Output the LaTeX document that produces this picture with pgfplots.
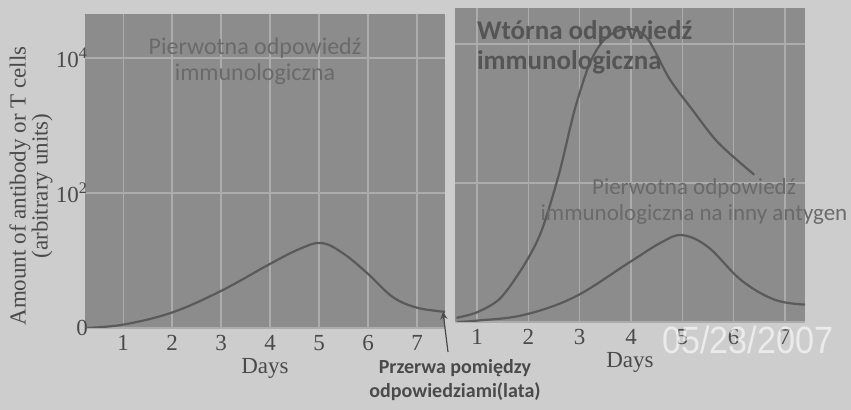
\documentclass[border=0pt]{standalone}
\usepackage{pgfplots}
\pgfplotsset{compat=1.18}
\usepackage{fontspec}
\setmainfont{Liberation Serif}
\newfontfamily\calfont{Carlito}
\newfontfamily\stampfont{Liberation Sans}
\definecolor{pagebg}{HTML}{CDCDCD}
\definecolor{panel}{HTML}{8C8C8C}
\definecolor{gridc}{HTML}{ACACAC}
\definecolor{curve}{HTML}{5A5A5A}
\definecolor{intext}{HTML}{6A6A6A}
\definecolor{labc}{HTML}{4A4A4A}
\begin{document}
\begin{tikzpicture}[x=1pt,y=1pt]
\fill[pagebg] (0,0) rectangle (425.5,205);
\pgfplotsset{
  panelstyle/.style={
    scale only axis,
    anchor=south west,
    axis background/.style={fill=panel},
    axis line style={draw=none},
    major tick length=0pt,
    grid=major,
    major grid style={gridc, line width=0.7pt},
    xtick={1,2,3,4,5,6,7},
    ytick={0,2,4},
    tick label style={font=\fontsize{11.5}{11.5}\selectfont, text=labc},
    yticklabel style={xshift=5pt},
    /pgf/number format/assume math mode=true,
    xlabel={Days},
    xlabel style={font=\fontsize{11.5}{11.5}\selectfont, text=labc, yshift=3pt},
    clip=true,
  }
}
% left panel
\begin{axis}[panelstyle,
  at={(42.5pt,41pt)}, width=180pt, height=157pt,
  xmin=0.22, xmax=7.57, ymin=0, ymax=4.65,
  yticklabels={0,10\textsuperscript{2},10\textsuperscript{4}},
]
\addplot[curve, line width=1.1pt, smooth, tension=0.6] coordinates {
 (0.22,0) (1,0.05) (2,0.23) (3,0.55) (4,0.95) (4.6,1.17) (5.05,1.26) (5.5,1.1)
 (6,0.8) (6.5,0.46) (7,0.3) (7.57,0.24)};
\end{axis}
% right panel
\begin{axis}[panelstyle,
  at={(227.5pt,44pt)}, width=175pt, height=157pt,
  xmin=0.57, xmax=7.39, ymin=0, ymax=4.52,
  yticklabels={},
]
\addplot[curve, line width=1.1pt, smooth, tension=0.5] coordinates {
 (0.6,0.06) (1,0.14) (1.45,0.34) (1.9,0.8) (2.25,1.3) (2.6,2.14) (2.9,3.05)
 (3.2,3.73) (3.5,4.08) (3.9,4.22) (4.3,4.1) (4.75,3.5) (5.2,3.05) (5.7,2.58) (6.4,2.12)};
\addplot[curve, line width=1.1pt, smooth, tension=0.6] coordinates {
 (0.6,0) (1,0.02) (1.9,0.1) (2.9,0.36) (3.95,0.85) (4.6,1.15) (5,1.25) (5.5,1.08)
 (6.15,0.6) (6.8,0.32) (7.39,0.25)};
\end{axis}
% y label
\node[rotate=90, font=\fontsize{11.5}{11}\selectfont, text=labc, align=center] at (15.5,112)
  {Amount of antibody or T cells\\(arbitrary units)};
% panel annotations
\node[font=\calfont\fontsize{12}{13}\selectfont, text=intext, align=center] at (127.5,174.5)
  {Pierwotna odpowiedź\\immunologiczna};
\node[font=\calfont\bfseries\fontsize{13.5}{15}\selectfont, text=intext!80!black, align=left, anchor=north west] at (235,198)
  {Wtórna odpowiedź\\immunologiczna};
\node[font=\calfont\fontsize{11.5}{13}\selectfont, text=intext, align=center] at (347,104)
  {Pierwotna odpowiedź\\immunologiczna na inny antygen};
% break annotation
\node[font=\calfont\bfseries\fontsize{10}{12}\selectfont, text=labc, align=center] at (227.5,15)
  {Przerwa pomiędzy\\odpowiedziami(lata)};
\draw[labc, line width=0.6pt, -stealth] (224,29) -- (221.5,49);
% date stamp
\node[font=\stampfont\fontsize{19}{19}\selectfont, text=white, opacity=0.6, xscale=0.9] at (374,35) {05/23/2007};
\pgfresetboundingbox
\path[use as bounding box] (0,0) rectangle (425.5,205);
\end{tikzpicture}
\end{document}
